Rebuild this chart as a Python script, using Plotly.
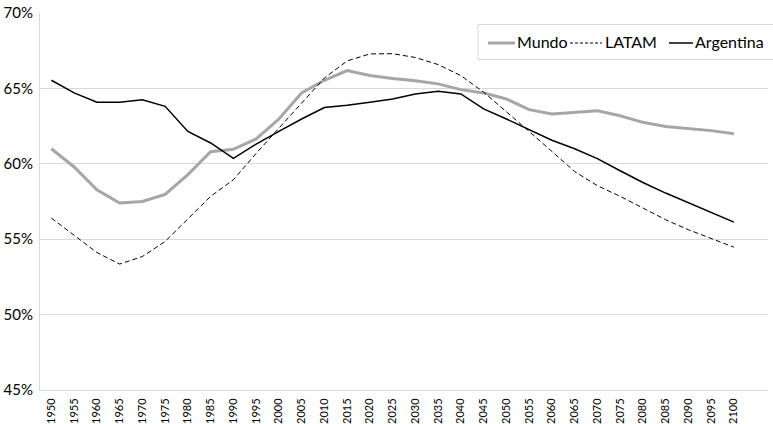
import plotly.graph_objects as go

years = list(range(1950, 2101, 5))
tick_labels = [str(y) for y in years]
y_ticks = [45, 50, 55, 60, 65, 70]
y_tick_labels = ["45%", "50%", "55%", "60%", "65%", "70%"]

series_names = ["Mundo", "LATAM", "Argentina"]
mundo = [61.0, 59.79, 58.28, 57.40, 57.50, 57.97, 59.28, 60.80, 60.96, 61.65,
         62.97, 64.70, 65.54, 66.18, 65.85, 65.65, 65.50, 65.30, 64.92, 64.70,
         64.30, 63.59, 63.30, 63.41, 63.52, 63.19, 62.75, 62.48, 62.33, 62.20, 62.0]
latam = [56.40, 55.25, 54.12, 53.35, 53.85, 54.85, 56.33, 57.84, 58.94, 60.69,
         62.36, 64.03, 65.69, 66.82, 67.29, 67.30, 67.05, 66.58, 65.85, 64.75,
         63.48, 62.15, 60.82, 59.49, 58.55, 57.84, 57.07, 56.29, 55.63, 55.07, 54.47]
argentina = [65.54, 64.70, 64.08, 64.08, 64.24, 63.81, 62.15, 61.38, 60.36, 61.31,
             62.15, 62.97, 63.73, 63.88, 64.08, 64.30, 64.63, 64.81, 64.63, 63.64,
             62.97, 62.26, 61.56, 61.0, 60.34, 59.54, 58.76, 58.06, 57.40, 56.77, 56.13]

FONT = "Lato"
W, H = 773, 424
ML, MR, MT, MB = 40, 5, 13, 34
PW, PH = W - ML - MR, H - MT - MB

styles = [
    dict(color="#a6a6a6", width=3),
    dict(color="#000000", width=1, dash="5px,3px"),
    dict(color="#000000", width=1.5),
]
legend_styles = [
    dict(color="#a6a6a6", width=3),
    dict(color="#000000", width=1, dash="3px,2px"),
    dict(color="#000000", width=1.5),
]

fig = go.Figure()
for name, vals, st in zip(series_names, [mundo, latam, argentina], styles):
    fig.add_trace(go.Scatter(x=years, y=vals, name=name, mode="lines",
                             line=st, showlegend=False))


def px_x(p):
    return (p - ML) / PW


def px_y(p):
    return (H - MB - p) / PH


# legend drawn by hand to reproduce the tight spacing of the original
shapes = [dict(type="rect", xref="paper", yref="paper",
               x0=px_x(478), x1=px_x(800), y0=px_y(59.5), y1=px_y(24.5),
               line=dict(color="#d9d9d9", width=1), fillcolor="white", layer="above")]
annotations = []
sym_spans = [(488, 515), (570, 602), (669, 693)]
text_left = [516, 604, 694]
ly = 43
for name, (a, b), tl, st in zip(series_names, sym_spans, text_left, legend_styles):
    shapes.append(dict(type="line", xref="paper", yref="paper",
                       x0=px_x(a), x1=px_x(b), y0=px_y(ly), y1=px_y(ly),
                       line=st, layer="above"))
    annotations.append(dict(text=name, xref="paper", yref="paper",
                            x=px_x(tl), y=px_y(ly - 1), xanchor="left", yanchor="middle",
                            showarrow=False, borderpad=0,
                            font=dict(size=16, family=FONT, color="#000000")))

fig.update_layout(
    width=W, height=H,
    margin=dict(l=ML, r=MR, t=MT, b=MB, autoexpand=False),
    paper_bgcolor="white", plot_bgcolor="white",
    font=dict(family=FONT, color="#000000"),
    showlegend=False,
    hovermode=False,
    shapes=shapes,
    annotations=annotations,
    xaxis=dict(range=[1947.5, 2107.5], tickmode="array", tickvals=years,
               ticktext=tick_labels, tickangle=-90, showgrid=False,
               showline=True, linecolor="#d9d9d9", linewidth=1, automargin=False,
               ticks="", zeroline=False, ticklabelstandoff=3,
               tickfont=dict(size=11, family=FONT)),
    yaxis=dict(range=[45, 70], tickmode="array", tickvals=y_ticks,
               ticktext=y_tick_labels, showgrid=True, gridcolor="#d9d9d9",
               gridwidth=1, showline=True, linecolor="#d9d9d9", linewidth=1, automargin=False,
               ticks="", zeroline=False, ticklabelstandoff=3,
               tickfont=dict(size=15, family=FONT)),
)

fig.write_html(
    "out.html",
    config={"displayModeBar": False, "staticPlot": True},
    post_script="document.body.style.margin='0';document.body.style.overflow='hidden';",
)
